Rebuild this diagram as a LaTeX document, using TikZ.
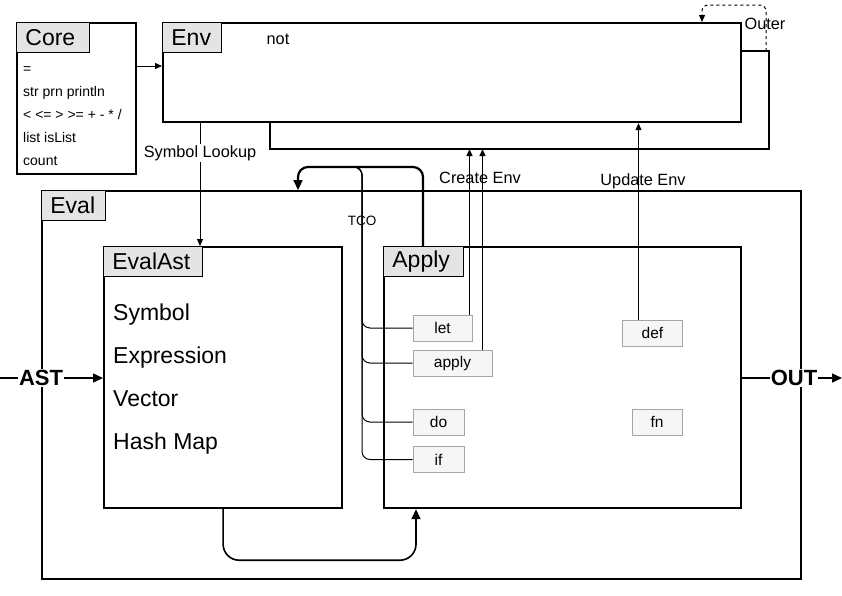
\documentclass[tikz,border=0pt]{standalone}
\usepackage{fontspec}
\setmainfont{Liberation Sans}
\definecolor{tabgray}{RGB}{228,228,228}
\definecolor{keyfill}{RGB}{246,246,246}
\definecolor{keyline}{RGB}{165,165,165}
\usetikzlibrary{arrows.meta,positioning,calc}
\newcommand{\titlesize}{\fontsize{23}{27}\selectfont}
\newcommand{\labelsize}{\fontsize{16.3}{19}\selectfont}
\newcommand{\keysize}{\fontsize{15.5}{18}\selectfont}
\newcommand{\listsize}{\fontsize{14}{16}\selectfont}

\begin{document}
\begin{tikzpicture}[x=1pt, y=1pt,
  box/.style={draw, line width=2.2pt, fill=white, anchor=north west, inner sep=0pt},
  tab/.style={draw, line width=0.8pt, fill=tabgray, anchor=north west, minimum height=30pt,
              inner xsep=9pt, inner ysep=0pt, align=left, text width=#1, font=\titlesize},
  key/.style={draw=keyline, line width=1pt, fill=keyfill, minimum height=26pt, inner sep=0pt, font=\keysize},
  item/.style={anchor=base west, inner sep=0pt, font=\titlesize},
  corefn/.style={anchor=base west, inner sep=0pt, font=\listsize},
  tag/.style={inner sep=1pt, font=\labelsize},
  wire/.style={line width=1pt, -{Triangle[length=7pt,width=6pt]}},
  fat/.style={line width=2.2pt},
]
\useasboundingbox (0,0) rectangle (842,-595);

% Core functions
\node[box, minimum width=119pt, minimum height=151pt] (core) at (16,-22) {};
\node[tab=55pt] (coretab) at (core.north west) {Core};
\node[corefn] (c1) at (23,-73) {=};
\node[corefn] (c2) at (23,-96) {str prn println};
\node[corefn] (c3) at (23,-119) {< <= > >= + - * /};
\node[corefn] (c4) at (23,-142) {list isList};
\node[corefn] (c5) at (23,-165) {count};

% Environment
\node[box, minimum width=578pt, minimum height=99pt] (env) at (162,-22) {};
\node[tab=41pt] (envtab) at (env.north west) {Env};
\node[tag] (envnot) at (278,-39) {not};

\draw[wire] (core.east |- 0,-66) -- (env.west |- 0,-66);

% Outer environment
\coordinate (envbase) at (270,-149);
\coordinate (outerstep) at (766,-51);
\draw[fat] ([xshift=108pt]env.south west) -- (envbase) -| (769,-51) -- (env.east |- outerstep);
\draw[line width=1pt, dashed, rounded corners=6pt, -{Triangle[length=7pt,width=6pt]}]
      (outerstep) -- (766,-5) -| ([xshift=540pt]env.north west);
\node[tag] (outer) at (765,-24) {Outer};

% Eval
\node[box, minimum width=759pt, minimum height=388pt] (eval) at (41,-190) {};
\node[tab=46pt] (evaltab) at (eval.north west) {Eval};

% EvalAst
\node[box, minimum width=238pt, minimum height=261pt] (evalast) at (103,-246) {};
\node[tab=81pt] (evalasttab) at (evalast.north west) {EvalAst};
\node[item] (i1) at (113,-320) {Symbol};
\node[item] (i2) at (113,-363) {Expression};
\node[item] (i3) at (113,-406) {Vector};
\node[item] (i4) at (113,-449) {Hash Map};

% Apply
\node[box, minimum width=357pt, minimum height=261pt] (apply) at (383,-246) {};
\node[tab=62pt] (applytab) at (apply.north west) {Apply};

\node[key, minimum width=59pt] (let) at (442.5,-328) {let};
\node[key, minimum width=79pt] (applyfn) at (452.5,-363) {apply};
\node[key, minimum width=51pt] (do) at (438.5,-422) {do};
\node[key, minimum width=51pt] (if) at (438.5,-459.5) {if};
\node[key, minimum width=60pt] (def) at (652.5,-333) {def};
\node[key, minimum width=50pt] (fn) at (657,-422) {fn};

% Symbol lookup
\draw[wire] ([xshift=38pt]env.south west) -- ([xshift=38pt]env.south west |- evalast.north);
\node[tag, fill=white] (lookup) at (200,-153) {Symbol Lookup};

% Create / update env
\draw[wire] ([xshift=-3pt]let.north east) -- ([xshift=-3pt]let.north east |- envbase);
\draw[wire] ([xshift=-10pt]applyfn.north east) -- ([xshift=-10pt]applyfn.north east |- envbase);
\node[tag] (create) at (480,-178) {Create Env};
\draw[wire] ([xshift=-14pt]def.north) -- ([xshift=-14pt]def.north |- env.south);
\node[tag] (update) at (643,-181) {Update Env};

% TCO loop
\coordinate (tcotop) at (298,-167);
\coordinate (tcobus) at (362,-167);
\draw[fat, rounded corners=10pt, -{Triangle[length=10pt,width=9pt]}]
      ([xshift=40pt]apply.north west) |- (tcotop) -- (tcotop |- eval.north);
\foreach \k in {let,applyfn,do,if}
  \draw[line width=1pt, rounded corners=8pt] (\k.west) -| (tcobus) -- ([xshift=-20pt]tcobus);
\node[font=\fontsize{13.5}{15}\selectfont, inner sep=0pt] (tco) at (362,-221) {TCO};

% EvalAst back into Apply
\draw[line width=1.6pt, rounded corners=16pt, -{Triangle[length=10pt,width=9pt]}]
      (evalast.south) -- ++(0,-51) -| ([xshift=33pt]apply.south west);

% Input and output
\node[fill=white, inner sep=1pt, font=\fontsize{22}{26}\selectfont\bfseries] (ast) at (41,-378) {AST};
\coordinate (astsrc) at (0,-378);
\draw[line width=1.5pt] (astsrc) -- (ast);
\draw[line width=1.5pt, -{Triangle[length=10pt,width=9pt]}] (ast) -- (ast -| evalast.west);

\node[fill=white, inner sep=1pt, font=\fontsize{22}{26}\selectfont\bfseries] (out) at (794,-378) {OUT};
\coordinate (outdst) at (842,-378);
\draw[line width=1.5pt] (apply.east |- out) -- (out);
\draw[line width=1.5pt, -{Triangle[length=10pt,width=9pt]}] (out) -- (outdst);

\end{tikzpicture}
\end{document}
